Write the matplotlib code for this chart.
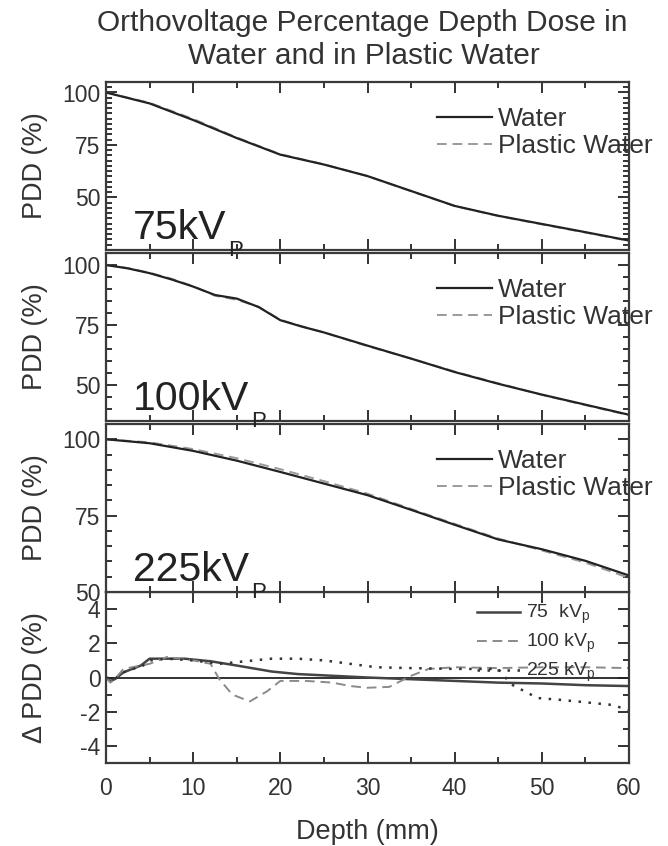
import matplotlib
matplotlib.use("Agg")
import matplotlib.pyplot as plt
from matplotlib.ticker import MultipleLocator

plt.rcParams['font.family'] = ['Liberation Sans', 'DejaVu Sans']
plt.rcParams['mathtext.fontset'] = 'custom'
plt.rcParams['mathtext.rm'] = 'Liberation Sans'
plt.rcParams['mathtext.it'] = 'Liberation Sans'
plt.rcParams['axes.unicode_minus'] = False

# ---------------- data ----------------
depth = [0, 5, 10, 15, 20, 25, 30, 35, 40, 45, 50, 55, 60]
water_75 = [100, 94.8, 86.9, 78.3, 70.4, 65.7, 60.2, 53.1, 46.0, 41.3, 37.4, 33.5, 29.5]
plastic_75 = [100, 95.1, 87.4, 78.6, 70.6, 65.8, 60.2, 53.0, 45.9, 41.2, 37.2, 33.3, 29.3]

depth_100 = [0, 2.5, 5, 7.5, 10, 12.5, 15, 17.5, 20, 22.5, 25, 30, 35, 40, 45, 50, 55, 60]
water_100 = [100, 98.6, 96.6, 94.0, 91.0, 87.5, 86.0, 82.5, 77.0, 74.3, 71.9, 66.4, 61.0, 55.4, 50.5, 46.0, 41.8, 37.6]
plastic_100 = [100, 98.7, 96.8, 94.3, 91.2, 87.2, 85.5, 82.6, 77.2, 74.4, 71.9, 66.2, 61.0, 55.6, 50.7, 45.9, 41.6, 37.4]

water_225 = [100, 98.7, 96.2, 93.0, 89.3, 85.5, 81.7, 76.9, 72.0, 67.2, 64.0, 60.2, 55.4]
plastic_225 = [100, 99.0, 96.8, 93.8, 90.2, 86.3, 82.2, 77.2, 72.3, 67.5, 63.6, 59.6, 54.6]

d75_x = [0, 0.5, 1, 2, 3, 4, 5, 7, 9, 12, 15, 19, 22, 26, 30, 35, 40, 45, 50, 55, 60]
d75_y = [0, -0.2, -0.1, 0.3, 0.5, 0.7, 1.1, 1.1, 1.1, 0.95, 0.7, 0.35, 0.2, 0.1, 0.0, -0.1, -0.2, -0.3, -0.35, -0.45, -0.5]

d100_x = [0, 0.5, 1, 2, 3, 4, 5, 7, 10, 12, 13, 14.5, 16.5, 18.5, 20, 23, 26, 28, 30, 32.5, 35, 37, 40, 45, 50, 55, 60]
d100_y = [0, -0.3, -0.1, 0.5, 0.6, 0.7, 0.8, 1.2, 1.0, 0.8, -0.1, -1.0, -1.4, -0.8, -0.2, -0.2, -0.3, -0.5, -0.6, -0.55, 0.1, 0.5, 0.6, 0.55, 0.6, 0.6, 0.55]

d225_x = [0, 1, 2, 3, 4, 5, 7, 10, 13, 16, 19, 22, 25, 28, 31, 35, 40, 45, 46.5, 49.5, 52, 55, 58, 60]
d225_y = [0, -0.1, 0.3, 0.5, 0.6, 1.0, 1.1, 1.0, 0.8, 0.95, 1.1, 1.1, 1.0, 0.8, 0.6, 0.55, 0.5, 0.5, -0.4, -1.2, -1.3, -1.45, -1.6, -1.9]

panel_names = ["75kV", "100kV", "225kV"]
panel_subs = ["P", "P", "P"]
xticks = [0, 10, 20, 30, 40, 50, 60]

# ---------------- figure ----------------
W, H = 668, 846
fig = plt.figure(figsize=(W / 100, H / 100), dpi=100)

left, right = 106, 629
def axes_px(top, bottom):
    return fig.add_axes([left / W, 1 - bottom / H, (right - left) / W, (bottom - top) / H])

ax1 = axes_px(82, 250)
ax2 = axes_px(253, 421)
ax3 = axes_px(424, 592)
ax4 = axes_px(592, 763)
# upper panels drawn last so their subscripts stay visible across the borders
ax1.set_zorder(4)
ax2.set_zorder(3)
ax3.set_zorder(2)
ax4.set_zorder(1)

spine_col = '#3a3a3a'
text_col = '#333333'
for ax in (ax1, ax2, ax3, ax4):
    ax.set_xlim(0, 60)
    ax.xaxis.set_major_locator(MultipleLocator(10))
    ax.xaxis.set_minor_locator(MultipleLocator(5))
    ax.tick_params(which='both', direction='in', top=True, right=True,
                   width=1.4, colors='#333333', labelsize=16.5, labelcolor=text_col)
    ax.tick_params(which='major', length=8, pad=4)
    ax.tick_params(which='minor', length=4)
    for s in ax.spines.values():
        s.set_linewidth(1.6)
        s.set_color(spine_col)

for ax in (ax1, ax2, ax3):
    ax.tick_params(labelbottom=False)
ax4.tick_params(axis='x', which='major', pad=10)

ax1.set_ylim(25, 105)
ax2.set_ylim(35, 105)
ax3.set_ylim(50, 105)
ax4.set_ylim(-5, 5)
for ax in (ax1, ax2, ax3):
    ax.set_yticks([50, 75, 100])
ax1.yaxis.set_minor_locator(MultipleLocator(2.5))
ax2.yaxis.set_minor_locator(MultipleLocator(5))
ax3.yaxis.set_minor_locator(MultipleLocator(5))
ax4.set_yticks([-4, -2, 0, 2, 4])
ax4.yaxis.set_minor_locator(MultipleLocator(1))
ax4.set_xticks(xticks)

water_kw = dict(color='#222222', lw=1.6, ls='-')
plastic_kw = dict(color='#9a9a9a', lw=1.4, ls=(0, (5, 3)))

datasets = [
    (ax1, depth, water_75, plastic_75),
    (ax2, depth_100, water_100, plastic_100),
    (ax3, depth, water_225, plastic_225),
]
for (ax, dx, w, p), name, sub in zip(datasets, panel_names, panel_subs):
    ax.plot(dx, p, label='Plastic Water', **plastic_kw)
    ax.plot(dx, w, label='Water', **water_kw)
    h, l = ax.get_legend_handles_labels()
    leg = ax.legend(h[::-1], l[::-1], loc='upper left', bbox_to_anchor=(0.633, 0.85),
                    frameon=False, fontsize=19, handlelength=2.1, handletextpad=0.2,
                    labelspacing=0.1, borderpad=0, borderaxespad=0)
    for t in leg.get_texts():
        t.set_color(text_col)
    t = ax.text(0.052, 0.065, name, transform=ax.transAxes, fontsize=29.5,
                color='#222222', ha='left', va='baseline')
    ax.annotate(sub, xy=(1, 0), xycoords=t, xytext=(1, -10), textcoords='offset points',
                fontsize=16, color='#222222', ha='left', va='bottom',
                annotation_clip=False, zorder=10)

for ax in (ax1, ax2, ax3):
    ax.set_ylabel('PDD (%)', fontsize=19.5, color=text_col)
ax4.set_ylabel('\u0394 PDD (%)', fontsize=19.5, color=text_col)
for ax in (ax1, ax2, ax3, ax4):
    ax.yaxis.set_label_coords(-0.11, 0.5)

ax4.axhline(0, color='#222222', lw=1.3)
ax4.plot(d75_x, d75_y, color='#444444', lw=1.8, ls='-', label='75  kV$_\\mathrm{p}$')
ax4.plot(d100_x, d100_y, color='#8a8a8a', lw=1.4, ls=(0, (5, 3)), label='100 kV$_\\mathrm{p}$')
ax4.plot(d225_x, d225_y, color='#333333', lw=1.8, ls=(0, (1, 3)), label='225 kV$_\\mathrm{p}$')
leg4 = ax4.legend(loc='upper left', bbox_to_anchor=(0.709, 0.935), frameon=False, fontsize=14,
                  handlelength=2.2, handletextpad=0.35, labelspacing=0.3,
                  borderpad=0, borderaxespad=0)
for t in leg4.get_texts():
    t.set_color(text_col)

ax4.set_xlabel('Depth (mm)', fontsize=19.5, color=text_col, labelpad=14)

fig.text(362 / W, 1 - 23 / H, 'Orthovoltage Percentage Depth Dose in', ha='center', va='center',
         fontsize=21.5, color=text_col)
fig.text(364 / W, 1 - 56 / H, 'Water and in Plastic Water', ha='center', va='center',
         fontsize=21.5, color=text_col)

fig.savefig('out.png', dpi=100, facecolor='white')
